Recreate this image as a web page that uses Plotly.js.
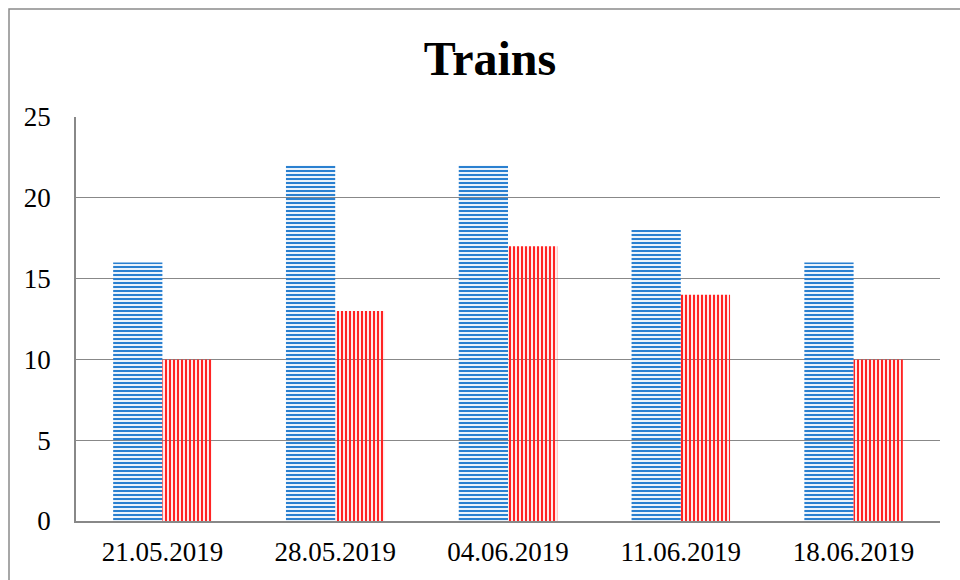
<!DOCTYPE html>
<html><head><meta charset="utf-8">
<script src="https://cdn.plot.ly/plotly-3.0.1.min.js"></script>
<style>html,body{margin:0;padding:0;background:#fff}</style>
</head><body>
<div id="chart" style="width:960px;height:580px"></div>
<script>
var categories = ["21.05.2019","28.05.2019","04.06.2019","11.06.2019","18.06.2019"];
var seriesBlue = [16,22,22,18,16];
var seriesRed = [10,13,17,14,10];
var yTicks = [0,5,10,15,20,25];

var traces = [
  {type:'bar', x:categories, y:seriesBlue, name:'Series 1',
   marker:{color:'#cfe2f5', line:{width:0},
     pattern:{shape:'-', size:4, solidity:0.55, fgcolor:'#2a80d0', fgopacity:1}}},
  {type:'bar', x:categories, y:seriesRed, name:'Series 2',
   marker:{color:'#ffcccc', line:{width:0},
     pattern:{shape:'|', size:4, solidity:0.55, fgcolor:'#ff2424', fgopacity:1}}}
];

var layout = {
  width:960, height:580,
  margin:{l:76, r:20, t:117, b:59},
  paper_bgcolor:'#fff', plot_bgcolor:'#fff',
  showlegend:false,
  barmode:'group', bargap:0.43, bargroupgap:0,
  font:{family:'"Liberation Serif", "Times New Roman", serif', color:'#000', size:27},
  title:{text:'<b>Trains</b>', font:{size:48, family:'"Liberation Serif", serif', color:'#000'},
    xref:'container', x:490/960, xanchor:'center', yref:'container', y:1-58/580, yanchor:'middle'},
  xaxis:{type:'category', showgrid:false, showline:true, linecolor:'#888', linewidth:1.5,
    ticks:'', ticklabelstandoff:6, tickfont:{size:27}},
  yaxis:{range:[0,25], tickvals:yTicks, showgrid:true, gridcolor:'#888', gridwidth:1,
    showline:true, linecolor:'#888', linewidth:1.5, ticks:'', ticklabelstandoff:18,
    zeroline:false, tickfont:{size:27}},
  shapes:[{type:'rect', xref:'paper', yref:'paper',
    x0:(9-76)/864, x1:1.2, y0:-0.3, y1:1+(117-9)/404,
    line:{color:'#8a8a8a', width:1.5}, layer:'below'}]
};
Plotly.newPlot('chart', traces, layout, {displayModeBar:false});
</script>
</body></html>
